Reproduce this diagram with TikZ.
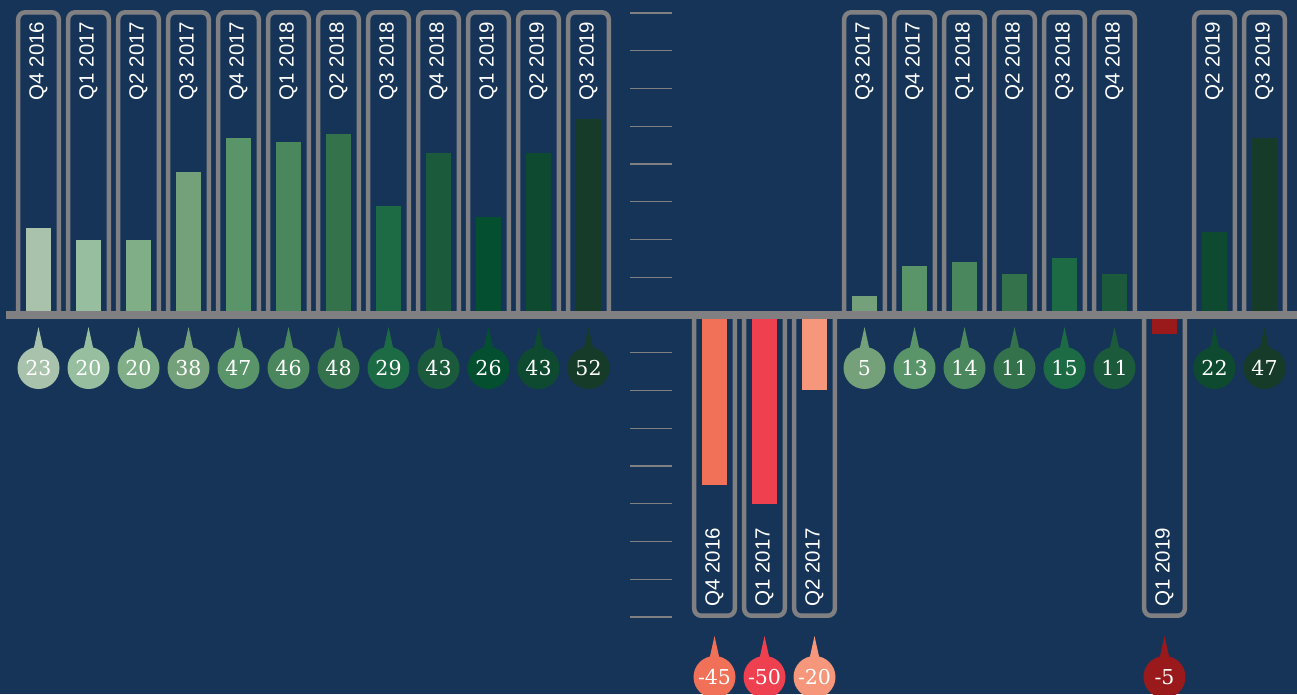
\documentclass[tikz,border=0pt]{standalone}
\usepackage{fontspec}
\setmainfont{DejaVu Serif}
\newfontfamily\labelfont{Liberation Sans}
\newfontfamily\numfont{DejaVu Serif}
\definecolor{bg}{HTML}{163458}
\definecolor{axisgray}{HTML}{808083}
\definecolor{qa}{HTML}{A8C2AC}
\definecolor{qb}{HTML}{97BE9E}
\definecolor{qc}{HTML}{80AE87}
\definecolor{qd}{HTML}{74A07A}
\definecolor{qe}{HTML}{5A956A}
\definecolor{qf}{HTML}{4A875C}
\definecolor{qg}{HTML}{33724B}
\definecolor{qh}{HTML}{1D6B45}
\definecolor{qi}{HTML}{1B5A3A}
\definecolor{qj}{HTML}{044F2F}
\definecolor{qk}{HTML}{0E4A30}
\definecolor{ql}{HTML}{163B29}
\definecolor{ra}{HTML}{F07058}
\definecolor{rb}{HTML}{EF404F}
\definecolor{rc}{HTML}{F6977C}
\definecolor{rd}{HTML}{9A1A1C}
\tikzset{
  boxline/.style={draw=axisgray, line width=4.5pt, rounded corners=7pt},
  qlabel/.style={text=white, font=\labelfont\fontsize{20.5}{20.5}\selectfont, inner sep=0pt, rotate=90},
  bubble/.style={circle, minimum size=42pt, inner sep=0pt, text=white, font=\numfont\fontsize{20.5}{20.5}\selectfont},
  tickline/.style={draw=axisgray, line width=1.4pt}
}
\begin{document}
\begin{tikzpicture}[x=1pt,y=-1pt]
\fill[bg] (0,0) rectangle (1297,694);
\useasboundingbox (0,0) rectangle (1297,694);
\begin{scope}
\clip (0,0) rectangle (1297,694);
% ticks
\foreach \k in {1,...,8}{
  \draw[tickline] (630,{315-37.75*\k}) -- (672,{315-37.75*\k});
  \draw[tickline] (630,{315+37.75*\k}) -- (672,{315+37.75*\k});
}
% left chart: bars
\foreach \i/\lab/\v/\c in {0/Q4 2016/23/qa,1/Q1 2017/20/qb,2/Q2 2017/20/qc,3/Q3 2017/38/qd,4/Q4 2017/47/qe,5/Q1 2018/46/qf,6/Q2 2018/48/qg,7/Q3 2018/29/qh,8/Q4 2018/43/qi,9/Q1 2019/26/qj,10/Q2 2019/43/qk,11/Q3 2019/52/ql}{
  \pgfmathsetmacro\x{38.5+50*\i}
  \fill[\c] ({\x-12.5},315) rectangle ({\x+12.5},{315-3.77*\v});
}
% right chart: bars
\foreach \i/\lab/\v/\c in {0/Q4 2016/-45/ra,1/Q1 2017/-50/rb,2/Q2 2017/-20/rc,3/Q3 2017/5/qd,4/Q4 2017/13/qe,5/Q1 2018/14/qf,6/Q2 2018/11/qg,7/Q3 2018/15/qh,8/Q4 2018/11/qi,9/Q1 2019/-5/rd,10/Q2 2019/22/qk,11/Q3 2019/47/ql}{
  \pgfmathsetmacro\x{714.5+50*\i}
  \fill[\c] ({\x-12.5},315) rectangle ({\x+12.5},{315-3.77*\v});
}
% axis
\fill[axisgray] (6,311) rectangle (1297,318.5);
% left chart: boxes, labels, bubbles
\foreach \i/\lab/\v/\c in {0/Q4 2016/23/qa,1/Q1 2017/20/qb,2/Q2 2017/20/qc,3/Q3 2017/38/qd,4/Q4 2017/47/qe,5/Q1 2018/46/qf,6/Q2 2018/48/qg,7/Q3 2018/29/qh,8/Q4 2018/43/qi,9/Q1 2019/26/qj,10/Q2 2019/43/qk,11/Q3 2019/52/ql}{
  \pgfmathsetmacro\x{38.5+50*\i}
  \draw[boxline] ({\x-20.3},311) -- ({\x-20.3},12.3) -- ({\x+20.3},12.3) -- ({\x+20.3},311);
  \node[qlabel, anchor=east] (lq\i) at (\x,21.5) {\lab};
  \fill[\c] (\x,327) -- ({\x-6},354) -- ({\x+6},354) -- cycle;
  \node[bubble, fill=\c] (lv\i) at (\x,368) {\v};
}
% right chart: positive columns
\foreach \i/\lab/\v/\c in {3/Q3 2017/5/qd,4/Q4 2017/13/qe,5/Q1 2018/14/qf,6/Q2 2018/11/qg,7/Q3 2018/15/qh,8/Q4 2018/11/qi,10/Q2 2019/22/qk,11/Q3 2019/47/ql}{
  \pgfmathsetmacro\x{714.5+50*\i}
  \draw[boxline] ({\x-20.3},311) -- ({\x-20.3},12.3) -- ({\x+20.3},12.3) -- ({\x+20.3},311);
  \node[qlabel, anchor=east] (rq\i) at (\x,21.5) {\lab};
  \fill[\c] (\x,327) -- ({\x-6},354) -- ({\x+6},354) -- cycle;
  \node[bubble, fill=\c] (rv\i) at (\x,368) {\v};
}
% right chart: negative columns
\foreach \i/\lab/\v/\c in {0/Q4 2016/-45/ra,1/Q1 2017/-50/rb,2/Q2 2017/-20/rc,9/Q1 2019/-5/rd}{
  \pgfmathsetmacro\x{714.5+50*\i}
  \draw[boxline] ({\x-20.3},318) -- ({\x-20.3},615.7) -- ({\x+20.3},615.7) -- ({\x+20.3},318);
  \node[qlabel, anchor=west] (rq\i) at (\x,607) {\lab};
  \fill[\c] (\x,636) -- ({\x-6},663) -- ({\x+6},663) -- cycle;
  \node[bubble, fill=\c] (rv\i) at (\x,677) {\v};
}
\end{scope}
\end{tikzpicture}
\end{document}
